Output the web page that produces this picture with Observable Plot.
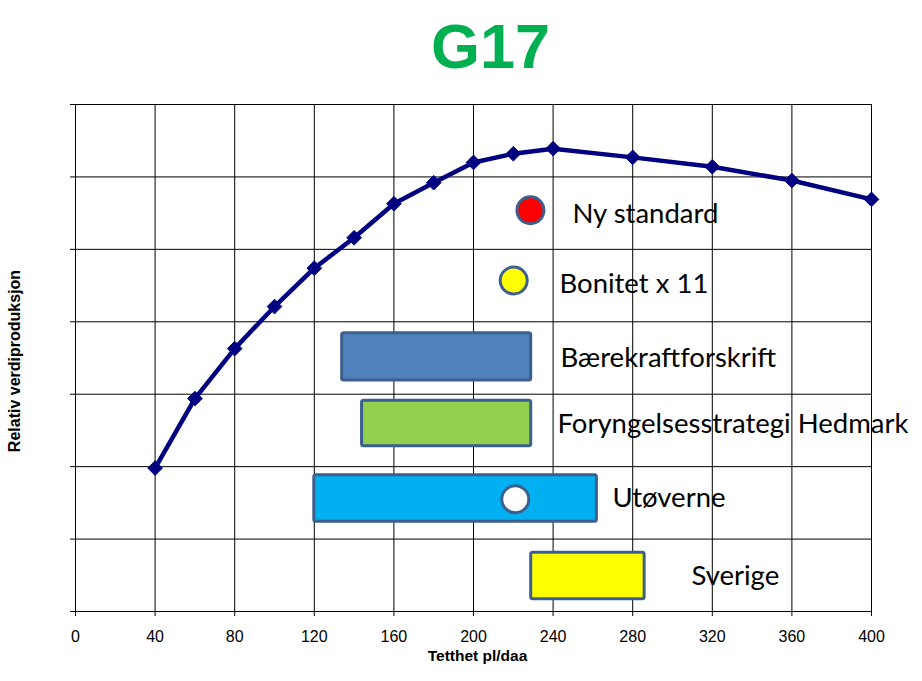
<!DOCTYPE html>
<html>
<head>
<meta charset="utf-8">
<script src="https://cdn.jsdelivr.net/npm/d3@7"></script>
<script src="https://cdn.jsdelivr.net/npm/@observablehq/plot@0.6"></script>
<style>
  html, body { margin: 0; padding: 0; background: #fff; }
  svg { display: block; }
</style>
</head>
<body>
<div id="chart"></div>
<script>
// ---- data ----
const title = "G17";
const xLabel = "Tetthet pl/daa";
const yLabel = "Relativ verdiproduksjon";
const xTicks = [0, 40, 80, 120, 160, 200, 240, 280, 320, 360, 400];
const yTicks = [0, 1, 2, 3, 4, 5, 6, 7];

const density    = [40, 60, 80, 100, 120, 140, 160, 180, 200, 220, 240, 280, 320, 360, 400];
const production = [1.98, 2.94, 3.63, 4.21, 4.74, 5.16, 5.63, 5.92, 6.20, 6.32, 6.39, 6.27, 6.14, 5.95, 5.69];

const rangeNames = ["Bærekraftforskrift", "Foryngelsesstrategi Hedmark", "Utøverne", "Sverige"];
const rangeFrom  = [134, 144, 120, 229];
const rangeTo    = [229, 229, 262, 286];
const rangeLow   = [3.19, 2.28, 1.24, 0.17];
const rangeHigh  = [3.84, 2.91, 1.88, 0.81];
const rangeFill  = ["#4f81bd", "#92d050", "#00b0f0", "#ffff00"];

const pointNames = ["Ny standard", "Bonitet x 11", "Utøverne"];
const pointX     = [228.6, 220.2, 221];
const pointY     = [5.54, 4.57, 1.55];
const pointFill  = ["#ff0000", "#ffff00", "#ffffff"];

const labelTexts = ["Ny standard", "Bonitet x 11", "Bærekraftforskrift", "Foryngelsesstrategi Hedmark", "Utøverne", "Sverige"];
const labelX     = [249.7, 243.2, 243.7, 242.2, 269.8, 309.5];
const labelY     = [5.37, 4.40, 3.38, 2.47, 1.44, 0.37];

// ---- tables ----
const curve = density.map((d, i) => ({x: d, y: production[i]}));
const ranges = rangeNames.map((n, i) => ({name: n, x1: rangeFrom[i], x2: rangeTo[i], y1: rangeLow[i], y2: rangeHigh[i], fill: rangeFill[i]}));
const points = pointNames.map((n, i) => ({name: n, x: pointX[i], y: pointY[i], fill: pointFill[i]}));
const labels = labelTexts.map((t, i) => ({text: t, x: labelX[i], y: labelY[i]}));

const edge = "#3c5f8e";

const chart = Plot.plot({
  width: 922,
  height: 681,
  marginLeft: 75,
  marginRight: 51,
  marginTop: 104,
  marginBottom: 70,
  style: {background: "#fff", overflow: "visible"},
  x: {domain: [0, 400]},
  y: {domain: [0, 7]},
  marks: [
    Plot.gridX(xTicks, {stroke: "#000", strokeOpacity: 1, strokeWidth: 1}),
    Plot.gridY(yTicks, {stroke: "#000", strokeOpacity: 1, strokeWidth: 1}),
    Plot.axisX({ticks: xTicks, tickSize: 5, tickPadding: 14, fontSize: 16, fontFamily: "Liberation Sans, Arial, sans-serif", fill: "#000", label: null, tickFormat: d => String(d)}),
    Plot.axisY({ticks: yTicks, tickSize: 5, tickFormat: () => "", label: null}),
    Plot.rect(ranges, {x1: "x1", x2: "x2", y1: "y1", y2: "y2", fill: "fill", stroke: edge, strokeWidth: 3, rx: 2}),
    Plot.dot(points, {x: "x", y: "y", fill: "fill", stroke: edge, strokeWidth: 3, r: 13.5}),
    Plot.line(curve, {x: "x", y: "y", stroke: "#000080", strokeWidth: 4.5, strokeLinejoin: "round"}),
    Plot.dot(curve, {x: "x", y: "y", symbol: "diamond2", r: 6.6, fill: "#000080", stroke: "#000080", strokeWidth: 1}),
    Plot.text(labels, {x: "x", y: "y", text: "text", textAnchor: "start", lineAnchor: "bottom", fontSize: 27.5, fontFamily: "Lato, sans-serif", fill: "#000"}),
    Plot.text([title], {frameAnchor: "top", dx: 17, dy: -37, lineAnchor: "bottom", fontSize: 63, fontWeight: "bold", fontFamily: "Liberation Sans, Arial, sans-serif", fill: "#00b050"}),
    Plot.text([xLabel], {frameAnchor: "bottom", dx: 4, dy: 49, lineAnchor: "bottom", fontSize: 15.5, fontWeight: "bold", fontFamily: "Liberation Sans, Arial, sans-serif", fill: "#000"}),
    Plot.text([yLabel], {frameAnchor: "left", dx: -55.5, dy: 3, rotate: -90, lineAnchor: "bottom", textAnchor: "middle", fontSize: 16, fontWeight: "bold", fontFamily: "Liberation Sans, Arial, sans-serif", fill: "#000"})
  ]
});
document.getElementById("chart").appendChild(chart);
</script>
</body>
</html>
